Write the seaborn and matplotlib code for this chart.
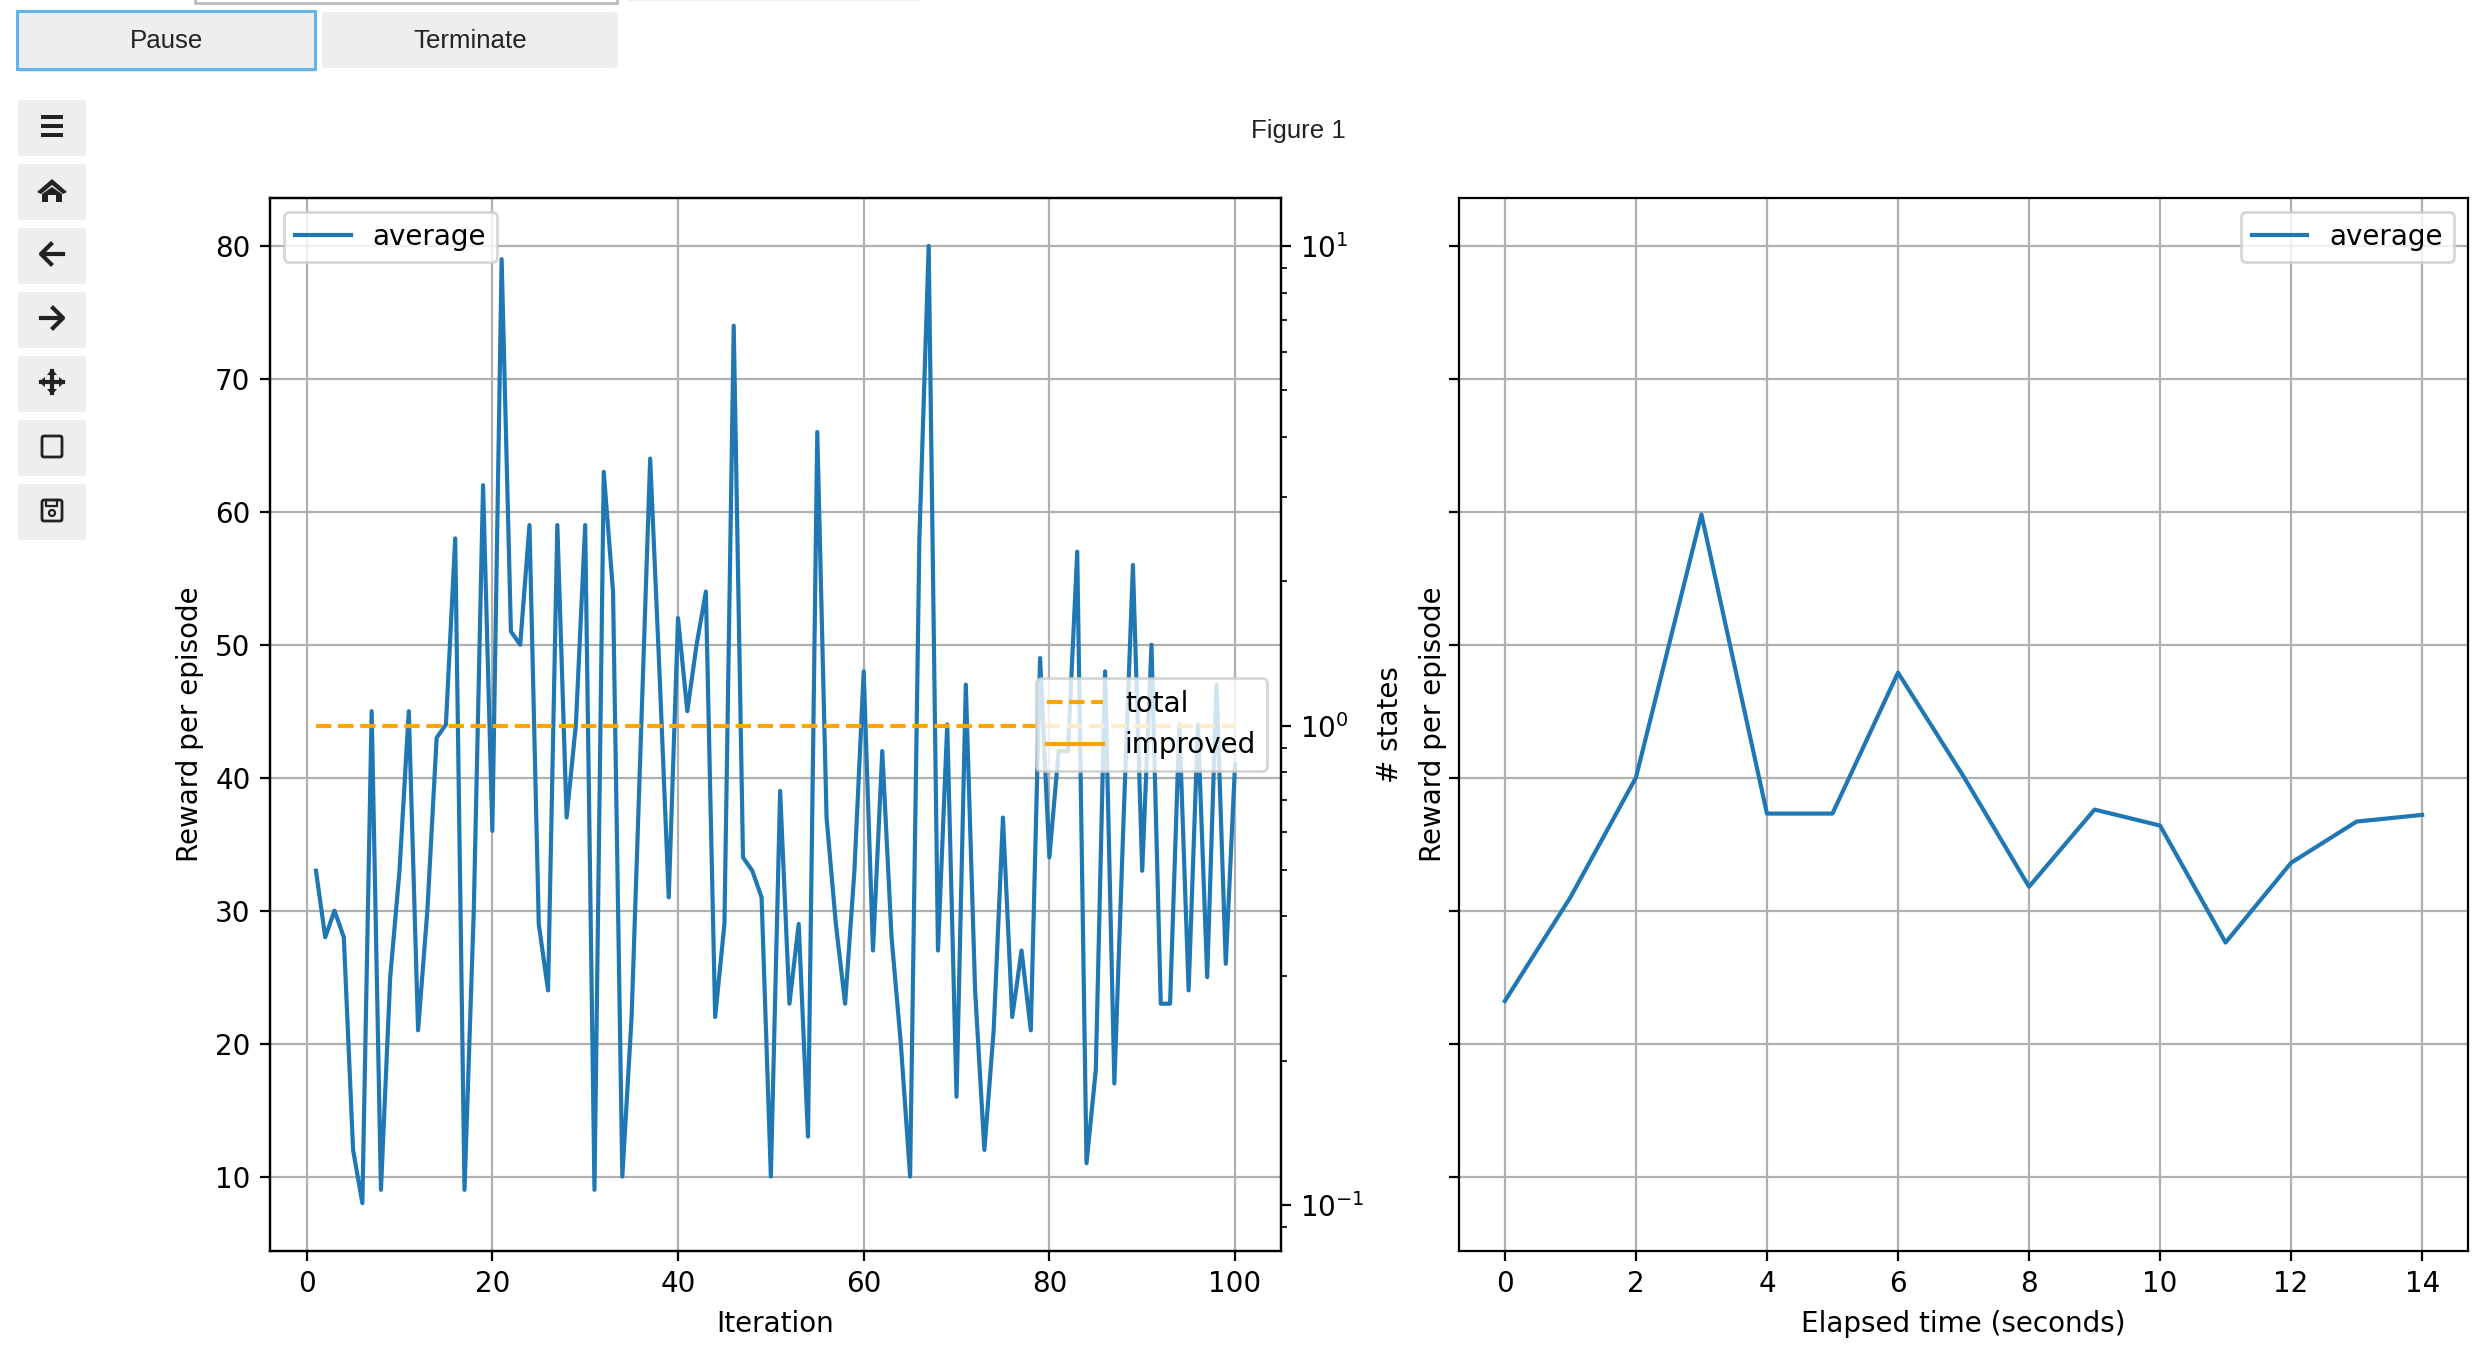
""" Training progress figure: reward per iteration, states (log) and reward over time """
import matplotlib
matplotlib.use("Agg")
import matplotlib.pyplot as plt
from matplotlib.patches import FancyBboxPatch, Polygon, Rectangle, Circle
import seaborn as sb

W, H, DPI = 2488, 1348, 200

iterations = list(range(1, 101))
reward_per_iter = [33, 28, 30, 28, 12, 8, 45, 9, 25, 33,
                   45, 21, 30, 43, 44, 58, 9, 30, 62, 36,
                   79, 51, 50, 59, 29, 24, 59, 37, 44, 59,
                   9, 63, 54, 10, 22, 43, 64, 48, 31, 52,
                   45, 50, 54, 22, 29, 74, 34, 33, 31, 10,
                   39, 23, 29, 13, 66, 37, 29, 23, 33, 48,
                   27, 42, 28, 20, 10, 58, 80, 27, 44, 16,
                   47, 24, 12, 21, 37, 22, 27, 21, 49, 34,
                   42, 42, 57, 11, 18, 48, 17, 37, 56, 33,
                   50, 23, 23, 44, 24, 44, 25, 47, 26, 41]
states_total = [1.0] * 100
states_improved = [0.0] * 100

elapsed = list(range(0, 15))
reward_per_sec = [23.2, 31.0, 40.0, 59.8, 37.3, 37.3, 47.9, 40.1,
                  31.8, 37.6, 36.4, 27.6, 33.6, 36.7, 37.2]

toolbar_tops = [100, 164, 228, 292, 356, 420, 484]

UI_FONT = "Liberation Sans"
BLUE = "#1f77b4"
ORANGE = "orange"


def axes_rect(left, top, right, bottom):
    return [left / W, 1 - bottom / H, (right - left) / W, (bottom - top) / H]


def button(ui, x0, y0, x1, y1, edge="none", lw=0):
    ui.add_patch(FancyBboxPatch((x0 + 4, y0 + 4), x1 - x0 - 8, y1 - y0 - 8,
                                boxstyle="round,pad=4,rounding_size=4",
                                fc="#eeeeee", ec=edge, lw=lw))


def draw_ui(ui):
    ink = "#222222"
    # leftovers of the inputs cut off at the top of the page
    ui.add_patch(Rectangle((195, -10), 422, 13, fc="white", ec="#bbbbbb", lw=1))
    ui.add_patch(Rectangle((627, -10), 293, 11, fc="#eeeeee", ec="none"))

    ui.add_patch(Rectangle((18, 14), 297, 58, fc="#d8d8d8", ec="none", alpha=0.6))
    button(ui, 17, 11, 315, 69)
    ui.add_patch(Rectangle((17, 11), 298, 58, fc="none", ec="#63b3ed", lw=1.1))
    button(ui, 322, 12, 618, 68)
    ui.text(166, 41, "Pause", family=UI_FONT, fontsize=9.3, color="#222222", ha="center", va="center")
    ui.text(470, 41, "Terminate", family=UI_FONT, fontsize=9.3, color="#222222", ha="center", va="center")
    ui.text(1298, 131, "Figure 1", family=UI_FONT, fontsize=9.3, color="#222222", ha="center", va="center")

    for top in toolbar_tops:
        button(ui, 18, top, 86, top + 56)
    cx = 52

    # menu
    for dy in (-9, 0, 9):
        ui.add_patch(Rectangle((cx - 11, 126 + dy - 1.7), 22, 3.4, fc=ink, ec="none"))
    # home
    ui.add_patch(Polygon([(cx - 15, 192), (cx, 179), (cx + 15, 192), (cx + 11, 194), (cx, 185), (cx - 11, 194)], fc=ink, ec="none"))
    ui.add_patch(Polygon([(cx - 10, 194), (cx, 187), (cx + 10, 194), (cx + 10, 202), (cx + 4, 202), (cx + 4, 195), (cx - 4, 195), (cx - 4, 202), (cx - 10, 202)], fc=ink, ec="none"))
    # back / forward
    ui.plot([cx + 11, cx - 10], [254, 254], color=ink, lw=1.5)
    ui.plot([cx - 1, cx - 11, cx - 1], [244, 254, 264], color=ink, lw=1.5)
    ui.plot([cx - 11, cx + 10], [318, 318], color=ink, lw=1.5)
    ui.plot([cx + 1, cx + 11, cx + 1], [308, 318, 328], color=ink, lw=1.5)
    # pan
    ui.plot([cx - 11, cx + 11], [382, 382], color=ink, lw=1.5)
    ui.plot([cx, cx], [371, 393], color=ink, lw=1.5)
    for a, b, c in [((cx, 369), (cx - 5, 375), (cx + 5, 375)), ((cx, 395), (cx - 5, 389), (cx + 5, 389)),
                    ((cx - 13, 382), (cx - 7, 377), (cx - 7, 387)), ((cx + 13, 382), (cx + 7, 377), (cx + 7, 387))]:
        ui.add_patch(Polygon([a, b, c], fc=ink, ec="none"))
    # zoom rectangle
    ui.add_patch(FancyBboxPatch((cx - 10, 436), 20, 21, boxstyle="round,pad=0,rounding_size=2", fc="none", ec=ink, lw=1))
    # save
    ui.add_patch(FancyBboxPatch((cx - 10, 500), 20, 21, boxstyle="round,pad=0,rounding_size=2", fc="none", ec=ink, lw=1))
    ui.add_patch(Rectangle((cx - 6, 500), 11, 6, fc="none", ec=ink, lw=0.8))
    ui.add_patch(Circle((cx, 513), 3, fc="none", ec=ink, lw=0.8))


if __name__ == "__main__":
    plt.rcParams["font.size"] = 10
    fig = plt.figure(figsize=(W / DPI, H / DPI), dpi=DPI)

    ui = fig.add_axes([0, 0, 1, 1], zorder=-1)
    ui.set_xlim(0, W)
    ui.set_ylim(H, 0)
    ui.axis("off")
    draw_ui(ui)

    ax1 = fig.add_axes(axes_rect(270, 198, 1281, 1251))
    ax2 = fig.add_axes(axes_rect(1459, 198, 2468, 1251), sharey=ax1)

    # left panel
    sb.lineplot(x=iterations, y=reward_per_iter, color=BLUE, label="average", errorbar=None, ax=ax1)
    ax1.set_xlabel("Iteration")
    ax1.set_ylabel("Reward per episode")
    ax1.grid(True)
    ax1.legend(loc="upper left")

    twin = ax1.twinx()
    sb.lineplot(x=iterations, y=states_total, color=ORANGE, linestyle="--", label="total", errorbar=None, ax=twin)
    sb.lineplot(x=iterations, y=states_improved, color=ORANGE, label="improved", errorbar=None, ax=twin)
    twin.set_yscale("log")
    twin.set_ylim(0.0802, 12.6)
    twin.set_ylabel("# states", labelpad=4)
    twin.legend(loc="center right")

    # right panel
    sb.lineplot(x=elapsed, y=reward_per_sec, color=BLUE, label="average", errorbar=None, ax=ax2)
    ax2.set_xlabel("Elapsed time (seconds)")
    ax2.set_ylabel("Reward per episode", labelpad=0.8)
    ax2.tick_params(axis="y", labelleft=False)
    ax2.set_xticks(range(0, 15, 2))
    ax2.grid(True)
    ax2.legend(loc="upper right")

    ax1.set_ylim(4.4, 83.6)

    fig.savefig("out.png", dpi=DPI)
